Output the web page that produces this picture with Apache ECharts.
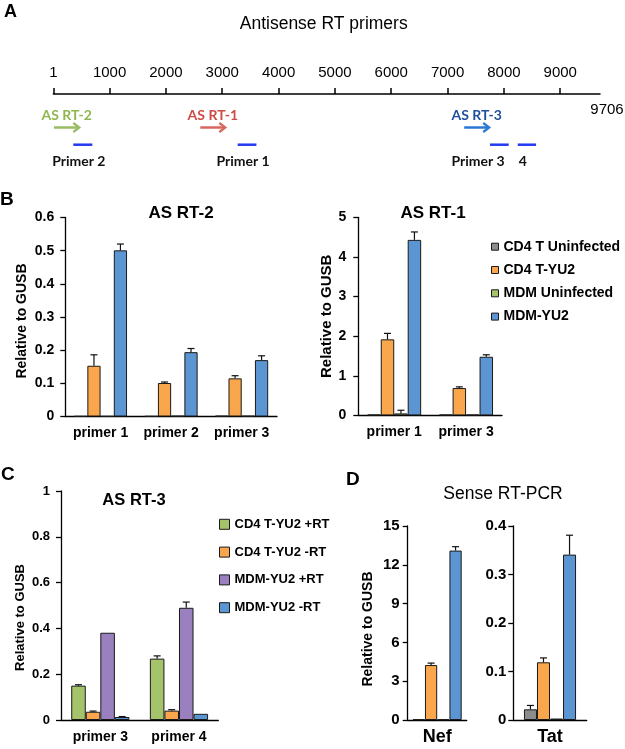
<!DOCTYPE html>
<html><head><meta charset="utf-8">
<script src="https://cdn.jsdelivr.net/npm/echarts@6/dist/echarts.min.js"></script>
<style>html,body{margin:0;padding:0;background:#fff}#c{width:625px;height:749px}</style>
</head><body><div id="c"></div>
<script>
// ================= DATA =================
// Panel A: HIV genome map
const seqLength = 9706;
const seqTicks = [1, 1000, 2000, 3000, 4000, 5000, 6000, 7000, 8000, 9000];
const transcriptNames = ['AS RT-2', 'AS RT-1', 'AS RT-3'];
const transcriptStart = [12, 2610, 7295];
const transcriptEnd = [463, 3055, 7740];
const primerNames = ['Primer 2', 'Primer 1', 'Primer 3', '4'];
const primerStart = [356, 3274, 7753, 8246];
const primerEnd = [694, 3607, 8085, 8571];

// Panel B / D groups
const groupsB = ['CD4 T Uninfected', 'CD4 T-YU2', 'MDM Uninfected', 'MDM-YU2'];

// Panel B left: AS RT-2
const catsRT2 = ['primer 1', 'primer 2', 'primer 3'];
const rt2CD4Uninf = [0.001, 0.001, 0.002];
const rt2CD4YU2 = [0.153, 0.101, 0.115];
const rt2CD4YU2Err = [0.033, 0.003, 0.008];
const rt2MDMUninf = [0.001, 0.002, 0.002];
const rt2MDMYU2 = [0.501, 0.194, 0.170];
const rt2MDMYU2Err = [0.019, 0.011, 0.013];
const rt2Ticks = [0, 0.1, 0.2, 0.3, 0.4, 0.5, 0.6];

// Panel B right: AS RT-1
const catsRT1 = ['primer 1', 'primer 3'];
const rt1CD4Uninf = [0.02, 0.02];
const rt1CD4YU2 = [1.92, 0.69];
const rt1CD4YU2Err = [0.15, 0.03];
const rt1MDMUninf = [0.05, 0.02];
const rt1MDMUninfErr = [0.08, 0];
const rt1MDMYU2 = [4.43, 1.48];
const rt1MDMYU2Err = [0.2, 0.05];
const rt1Ticks = [0, 1, 2, 3, 4, 5];

// Panel C: AS RT-3
const groupsC = ['CD4 T-YU2 +RT', 'CD4 T-YU2 -RT', 'MDM-YU2 +RT', 'MDM-YU2 -RT'];
const catsRT3 = ['primer 3', 'primer 4'];
const rt3CD4Plus = [0.150, 0.268];
const rt3CD4PlusErr = [0.004, 0.012];
const rt3CD4Minus = [0.036, 0.041];
const rt3CD4MinusErr = [0.003, 0.004];
const rt3MDMPlus = [0.381, 0.490];
const rt3MDMPlusErr = [0, 0.025];
const rt3MDMMinus = [0.013, 0.027];
const rt3MDMMinusErr = [0.002, 0];
const rt3Ticks = [0, 0.2, 0.4, 0.6, 0.8, 1];

// Panel D: Sense RT-PCR
const catsNef = ['Nef'];
const nefCD4Uninf = [0.05];
const nefCD4YU2 = [4.25];
const nefCD4YU2Err = [0.15];
const nefMDMUninf = [0.05];
const nefMDMYU2 = [13.1];
const nefMDMYU2Err = [0.3];
const nefTicks = [0, 3, 6, 9, 12, 15];

const catsTat = ['Tat'];
const tatCD4Uninf = [0.022];
const tatCD4UninfErr = [0.008];
const tatCD4YU2 = [0.119];
const tatCD4YU2Err = [0.009];
const tatMDMUninf = [0.003];
const tatMDMYU2 = [0.341];
const tatMDMYU2Err = [0.04];
const tatTicks = [0, 0.1, 0.2, 0.3, 0.4];

// ================= STYLE =================
const FF = "'Liberation Sans', Arial, sans-serif";
const FC = "Lato, 'Open Sans', sans-serif";
const cGray = '#8c8c8c', cOrange = '#f9a64d', cGreen = '#a4c36a', cBlue = '#5b95d2', cPurple = '#9a80bf';
const colorsB = [cGray, cOrange, cGreen, cBlue];
const colorsC = [cGreen, cOrange, cPurple, cBlue];
const transcriptTextColors = ['#8fb650', '#cc4b45', '#1f4f9c'];
const transcriptArrowColors = ['#98bd62', '#d9675e', '#2a78d6'];
const primerColor = '#2339f2';

const chart = echarts.init(document.getElementById('c'), null, {renderer: 'canvas'});

const grids = [
  {left: 53.3, top: 94, width: 546.7, height: 60},     // A
  {left: 65.3, top: 217.5, width: 211.7, height: 199}, // B left
  {left: 358.3, top: 217.3, width: 143.7, height: 198.1}, // B right
  {left: 61, top: 491, width: 157.3, height: 229},     // C
  {left: 407.7, top: 526, width: 59, height: 194},     // D Nef
  {left: 513.3, top: 526, width: 73.4, height: 194}    // D Tat
];

const lineSt = {color: '#000', width: 1.3};
function catAxis(gi, cats, fs, margin) {
  return {type: 'category', gridIndex: gi, data: cats,
    axisLine: {lineStyle: lineSt}, axisTick: {length: 5, lineStyle: lineSt},
    axisLabel: {color: '#000', fontFamily: FF, fontWeight: 'bold', fontSize: fs, margin: margin, interval: 0}};
}
function valAxis(gi, ticks, fs, margin, axisName, nameGap, nameFs, namePad) {
  return {type: 'value', gridIndex: gi, min: ticks[0], max: ticks[ticks.length - 1],
    interval: ticks[1] - ticks[0],
    axisLine: {show: true, lineStyle: lineSt}, axisTick: {show: true, length: 5, lineStyle: lineSt},
    splitLine: {show: false},
    axisLabel: {color: '#000', fontFamily: FF, fontWeight: 'bold', fontSize: fs, margin: margin},
    name: axisName, nameLocation: 'middle', nameGap: nameGap,
    nameTextStyle: {color: '#000', fontFamily: FF, fontWeight: 'bold', fontSize: nameFs, padding: namePad}};
}
const yName = 'Relative to GUSB';

const xAxes = [
  {type: 'value', gridIndex: 0, position: 'top', min: 1, max: seqLength,
    axisLine: {onZero: false, lineStyle: {color: '#000', width: 1.5}},
    axisTick: {customValues: seqTicks, length: 6, lineStyle: {color: '#000', width: 1.5}},
    axisLabel: {customValues: seqTicks, color: '#000', fontFamily: FF, fontSize: 15, margin: 14,
      formatter: function (v) { return String(v); }},
    splitLine: {show: false}},
  catAxis(1, catsRT2, 14, 10),
  catAxis(2, catsRT1, 14, 10),
  catAxis(3, catsRT3, 14, 10),
  catAxis(4, catsNef, 18, 8),
  catAxis(5, catsTat, 18, 8)
];
const yAxes = [
  {type: 'value', gridIndex: 0, min: 0, max: 1, show: false},
  valAxis(1, rt2Ticks, 14, 11, yName, 36, 14, [0, 8, 0, 0]),
  valAxis(2, rt1Ticks, 14, 12, yName, 24, 15, [0, 0, 0, 0]),
  valAxis(3, rt3Ticks, 13, 11, yName, 34, 13, [0, 24, 0, 0]),
  valAxis(4, nefTicks, 15, 8, yName, 33, 14, [0, 12, 0, 0]),
  valAxis(5, tatTicks, 15, 7, '', 30, 14, [0, 0, 0, 0])
];

function barSeries(ai, names, values, colors, gap) {
  return values.map((vals, i) => ({
    type: 'bar', name: names[i], xAxisIndex: ai, yAxisIndex: ai, data: vals,
    barGap: '0%', barCategoryGap: (gap * 100) + '%',
    itemStyle: {color: colors[i], borderColor: '#1a1a1a', borderWidth: 1},
    emphasis: {disabled: true}, silent: true
  }));
}
function errSeries(ai, values, errs, gap) {
  const data = [];
  values.forEach((vals, si) => vals.forEach((v, ci) => {
    const e = errs[si] ? errs[si][ci] : 0;
    if (e > 0) data.push([ci, v, v + e, si, values.length]);
  }));
  return {type: 'custom', xAxisIndex: ai, yAxisIndex: ai, data: data, z: 5, silent: true,
    encode: {x: 0, y: [1, 2]},
    renderItem: function (params, api) {
      const ci = api.value(0), v = api.value(1), hi = api.value(2), si = api.value(3), n = api.value(4);
      const band = api.size([1, 0])[0];
      const gw = band * (1 - gap), bw = gw / n;
      const b = api.coord([ci, v]), t = api.coord([ci, hi]);
      const x = b[0] - gw / 2 + bw * (si + 0.5);
      return {type: 'group', children: [
        {type: 'line', shape: {x1: x, y1: b[1], x2: x, y2: t[1]}, style: {stroke: '#111', lineWidth: 1.2}},
        {type: 'line', shape: {x1: x - 3.5, y1: t[1], x2: x + 3.5, y2: t[1]}, style: {stroke: '#111', lineWidth: 1.2}}
      ]};
    }};
}

const gapB1 = 0.25, gapB2 = 0.25, gapC = 0.26, gapD1 = 0.17, gapD2 = 0.29;
const valsB1 = [rt2CD4Uninf, rt2CD4YU2, rt2MDMUninf, rt2MDMYU2];
const errsB1 = [null, rt2CD4YU2Err, null, rt2MDMYU2Err];
const valsB2 = [rt1CD4Uninf, rt1CD4YU2, rt1MDMUninf, rt1MDMYU2];
const errsB2 = [null, rt1CD4YU2Err, rt1MDMUninfErr, rt1MDMYU2Err];
const valsC = [rt3CD4Plus, rt3CD4Minus, rt3MDMPlus, rt3MDMMinus];
const errsC = [rt3CD4PlusErr, rt3CD4MinusErr, rt3MDMPlusErr, rt3MDMMinusErr];
const valsD1 = [nefCD4Uninf, nefCD4YU2, nefMDMUninf, nefMDMYU2];
const errsD1 = [null, nefCD4YU2Err, null, nefMDMYU2Err];
const valsD2 = [tatCD4Uninf, tatCD4YU2, tatMDMUninf, tatMDMYU2];
const errsD2 = [tatCD4UninfErr, tatCD4YU2Err, null, tatMDMYU2Err];

// Panel A map series
const primerLabelAlign = {'Primer 3': 'right'};
const mapSeries = [
  {type: 'custom', xAxisIndex: 0, yAxisIndex: 0, silent: true,
    data: transcriptStart.map((s, i) => [s, transcriptEnd[i], i]),
    renderItem: function (params, api) {
      const i = api.value(2);
      const p1 = api.coord([api.value(0), 1]), p2 = api.coord([api.value(1), 1]);
      const y = p1[1] + 33.5, col = transcriptArrowColors[i];
      return {type: 'group', children: [
        {type: 'line', shape: {x1: p1[0], y1: y, x2: p2[0] - 1, y2: y}, style: {stroke: col, lineWidth: 2.5}},
        {type: 'polyline', shape: {points: [[p2[0] - 6, y - 4.5], [p2[0], y], [p2[0] - 6, y + 4.5]]},
          style: {stroke: col, lineWidth: 2.2, fill: null}},
        {type: 'text', x: (p1[0] + p2[0]) / 2, y: p1[1] + 21,
          style: {text: transcriptNames[i], fill: transcriptTextColors[i], font: 'bold 14px ' + FC,
            align: 'center', verticalAlign: 'middle'}}
      ]};
    }},
  {type: 'custom', xAxisIndex: 0, yAxisIndex: 0, silent: true,
    data: primerStart.map((s, i) => [s, primerEnd[i], i]),
    renderItem: function (params, api) {
      const i = api.value(2);
      const p1 = api.coord([api.value(0), 1]), p2 = api.coord([api.value(1), 1]);
      const y = p1[1] + 50.7;
      const al = primerLabelAlign[primerNames[i]] || 'center';
      const tx = al === 'right' ? p2[0] - 4 : (p1[0] + p2[0]) / 2 - 4;
      return {type: 'group', children: [
        {type: 'line', shape: {x1: p1[0], y1: y, x2: p2[0], y2: y}, style: {stroke: primerColor, lineWidth: 2.5}},
        {type: 'text', x: tx, y: p1[1] + 67,
          style: {text: primerNames[i], fill: '#111', font: 'bold 14px ' + FC, align: al, verticalAlign: 'middle'}}
      ]};
    }},
  {type: 'custom', xAxisIndex: 0, yAxisIndex: 0, silent: true,
    data: [[seqLength]],
    renderItem: function (params, api) {
      const p = api.coord([api.value(0), 1]);
      return {type: 'text', x: p[0] + 7, y: p[1] + 16,
        style: {text: String(api.value(0)), fill: '#000', font: '15px ' + FF, align: 'center', verticalAlign: 'middle'}};
    }}
];

function txt(text, x, y, font, align) {
  return {type: 'text', x: x, y: y, silent: true,
    style: {text: text, font: font, fill: '#000', align: align || 'center', verticalAlign: 'middle'}};
}

const option = {
  animation: false,
  backgroundColor: '#fff',
  grid: grids,
  xAxis: xAxes,
  yAxis: yAxes,
  legend: [
    {orient: 'vertical', left: 486, top: 233.7, itemWidth: 7, itemHeight: 7, itemGap: 7.3, icon: 'rect',
      selectedMode: false, data: groupsB,
      itemStyle: {borderColor: '#1a1a1a', borderWidth: 1},
      textStyle: {color: '#000', fontFamily: FF, fontWeight: 'bold', fontSize: 14, lineHeight: 16}},
    {orient: 'vertical', left: 214, top: 511.3, itemWidth: 10, itemHeight: 10, itemGap: 11.8, icon: 'rect',
      selectedMode: false, data: groupsC,
      itemStyle: {borderColor: '#1a1a1a', borderWidth: 1},
      textStyle: {color: '#000', fontFamily: FF, fontWeight: 'bold', fontSize: 13, lineHeight: 16}}
  ],
  graphic: [
    txt('A', 4, 12, 'bold 18px ' + FF, 'left'),
    txt('Antisense RT primers', 323.7, 24, '17.5px ' + FF),
    txt('B', 0, 199.5, 'bold 19px ' + FF, 'left'),
    txt('AS RT-2', 181, 213.5, 'bold 17px ' + FF),
    txt('AS RT-1', 433, 213.5, 'bold 17px ' + FF),
    txt('C', 1, 475, 'bold 19px ' + FF, 'left'),
    txt('AS RT-3', 134, 500, 'bold 16.5px ' + FF),
    txt('D', 346, 480, 'bold 19px ' + FF, 'left'),
    txt('Sense RT-PCR', 503, 494, '17.5px ' + FF)
  ],
  series: [].concat(
    mapSeries,
    barSeries(1, groupsB, valsB1, colorsB, gapB1), [errSeries(1, valsB1, errsB1, gapB1)],
    barSeries(2, groupsB, valsB2, colorsB, gapB2), [errSeries(2, valsB2, errsB2, gapB2)],
    barSeries(3, groupsC, valsC, colorsC, gapC), [errSeries(3, valsC, errsC, gapC)],
    barSeries(4, groupsB, valsD1, colorsB, gapD1), [errSeries(4, valsD1, errsD1, gapD1)],
    barSeries(5, groupsB, valsD2, colorsB, gapD2), [errSeries(5, valsD2, errsD2, gapD2)]
  )
};
chart.setOption(option);
</script>
</body></html>
